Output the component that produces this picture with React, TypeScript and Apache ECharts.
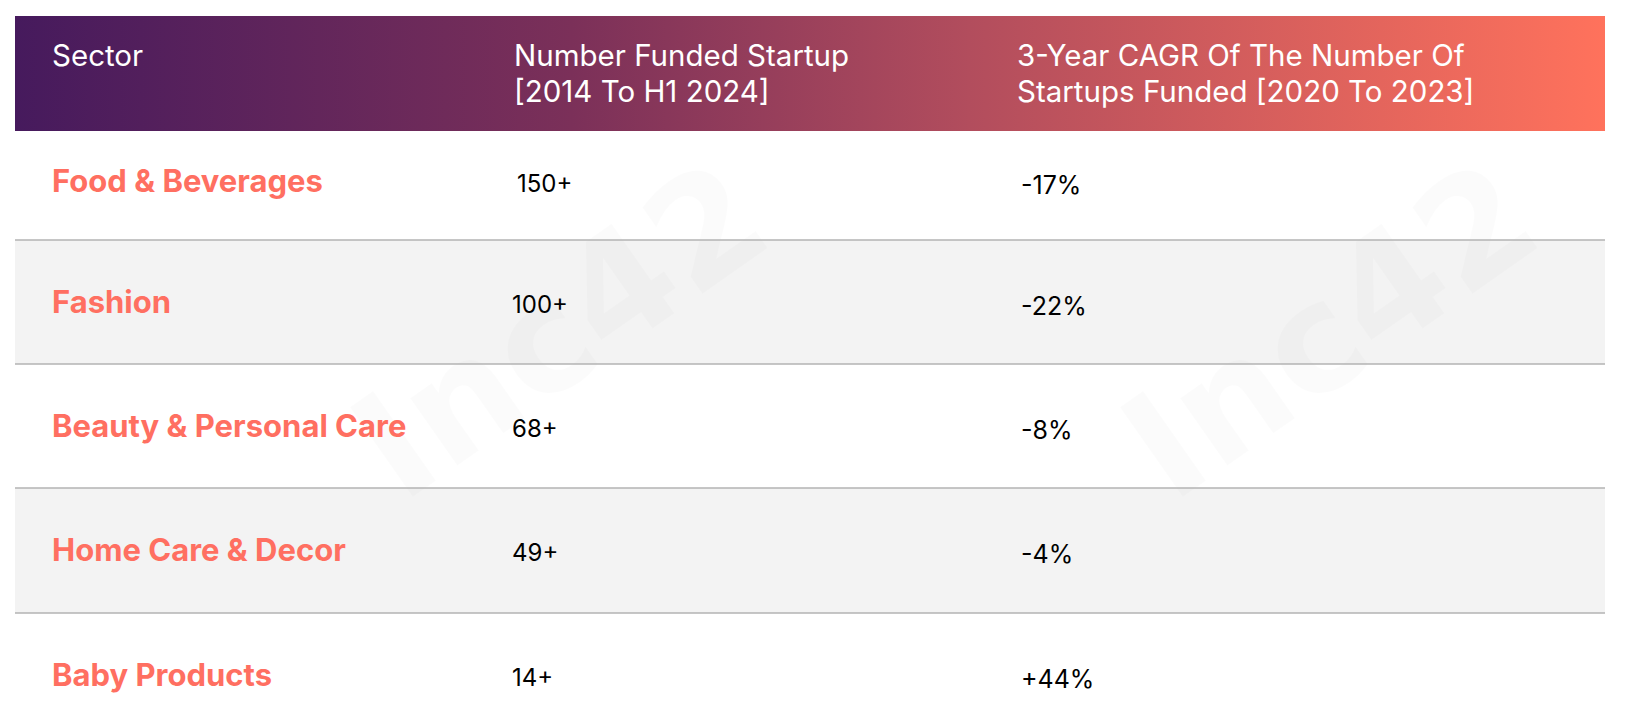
import React, { useEffect, useRef } from "react";
import * as echarts from "echarts";

const headers = [
  "Sector",
  "Number Funded Startup\n[2014 To H1 2024]",
  "3-Year CAGR Of The Number Of\nStartups Funded [2020 To 2023]",
];
const sectors = [
  "Food & Beverages",
  "Fashion",
  "Beauty & Personal Care",
  "Home Care & Decor",
  "Baby Products",
];
const funded = ["150+", "100+", "68+", "49+", "14+"];
const cagr = ["-17%", "-22%", "-8%", "-4%", "+44%"];
const watermark = "Inc42";

export default function App() {
  const ref = useRef<HTMLDivElement>(null);
  useEffect(() => {
    document.body.style.margin = "0";
    const chart = echarts.init(ref.current!, null, { renderer: "svg" });
    const left = 15;
    const right = 1605;
    const headTop = 16;
    const headBottom = 131;
    const rowTops = [131, 240, 364, 488, 613, 740];
    const colX = [52, 514, 1017];
    const font = "Inter, 'Noto Sans', sans-serif";

    const elements: any[] = [];
    sectors.forEach((_, i) => {
      elements.push({
        type: "rect",
        shape: { x: left, y: rowTops[i], width: right - left, height: rowTops[i + 1] - rowTops[i] },
        style: { fill: i % 2 === 1 ? "#f3f3f3" : "#ffffff" },
        z: 0,
      });
    });
    const wm = [
      [560, 330],
      [1330, 330],
    ];
    wm.forEach(([x, y]) => {
      elements.push({
        type: "text",
        x,
        y,
        rotation: (35 * Math.PI) / 180,
        style: {
          text: watermark,
          fontSize: 150,
          fontWeight: 900,
          fontFamily: "'DejaVu Sans', sans-serif",
          fill: "rgba(0,0,0,0.014)",
          align: "center",
          verticalAlign: "middle",
        },
        z: 1,
      });
    });
    elements.push({
      type: "rect",
      shape: { x: left, y: headTop, width: right - left, height: headBottom - headTop },
      style: {
        fill: new echarts.graphic.LinearGradient(0, 0, 1, 0, [
          { offset: 0, color: "#461a5d" },
          { offset: 0.35, color: "#7b3059" },
          { offset: 0.6, color: "#b24d5d" },
          { offset: 1, color: "#ff725c" },
        ]),
      },
      z: 2,
    });
    headers.forEach((h, c) => {
      h.split("\n").forEach((line, k) => {
        elements.push({
          type: "text",
          x: colX[c],
          y: 55 + k * 35.5,
          style: {
            text: line,
            fontSize: 29.5,
            fontFamily: font,
            fill: "#ffffff",
            align: "left",
            verticalAlign: "middle",
          },
          z: 3,
        });
      });
    });
    for (let i = 1; i < sectors.length; i++) {
      elements.push({
        type: "line",
        shape: { x1: left, y1: rowTops[i], x2: right, y2: rowTops[i] },
        style: { stroke: "#b3b3b3", lineWidth: 1.5 },
        z: 3,
      });
    }
    sectors.forEach((s, i) => {
      const cy = rowTops[i] + (i === 0 ? 49 : 61);
      elements.push({
        type: "text",
        x: colX[0],
        y: cy,
        style: {
          text: s,
          fontSize: 31,
          fontWeight: 700,
          fontFamily: font,
          fill: "#ff6f61",
          verticalAlign: "middle",
        },
        z: 4,
      });
      elements.push({
        type: "text",
        x: i === 0 ? 517 : 512,
        y: cy + 3,
        style: {
          text: funded[i],
          fontSize: 24,
          fontFamily: font,
          fill: "#000000",
          verticalAlign: "middle",
        },
        z: 4,
      });
      elements.push({
        type: "text",
        x: 1021,
        y: cy + 5,
        style: {
          text: cagr[i],
          fontSize: 25,
          fontFamily: font,
          fill: "#000000",
          verticalAlign: "middle",
        },
        z: 4,
      });
    });

    chart.setOption({
      animation: false,
      backgroundColor: "#ffffff",
      graphic: { elements },
    });
    return () => chart.dispose();
  }, []);
  return <div ref={ref} style={{ width: 1626, height: 727 }} />;
}
